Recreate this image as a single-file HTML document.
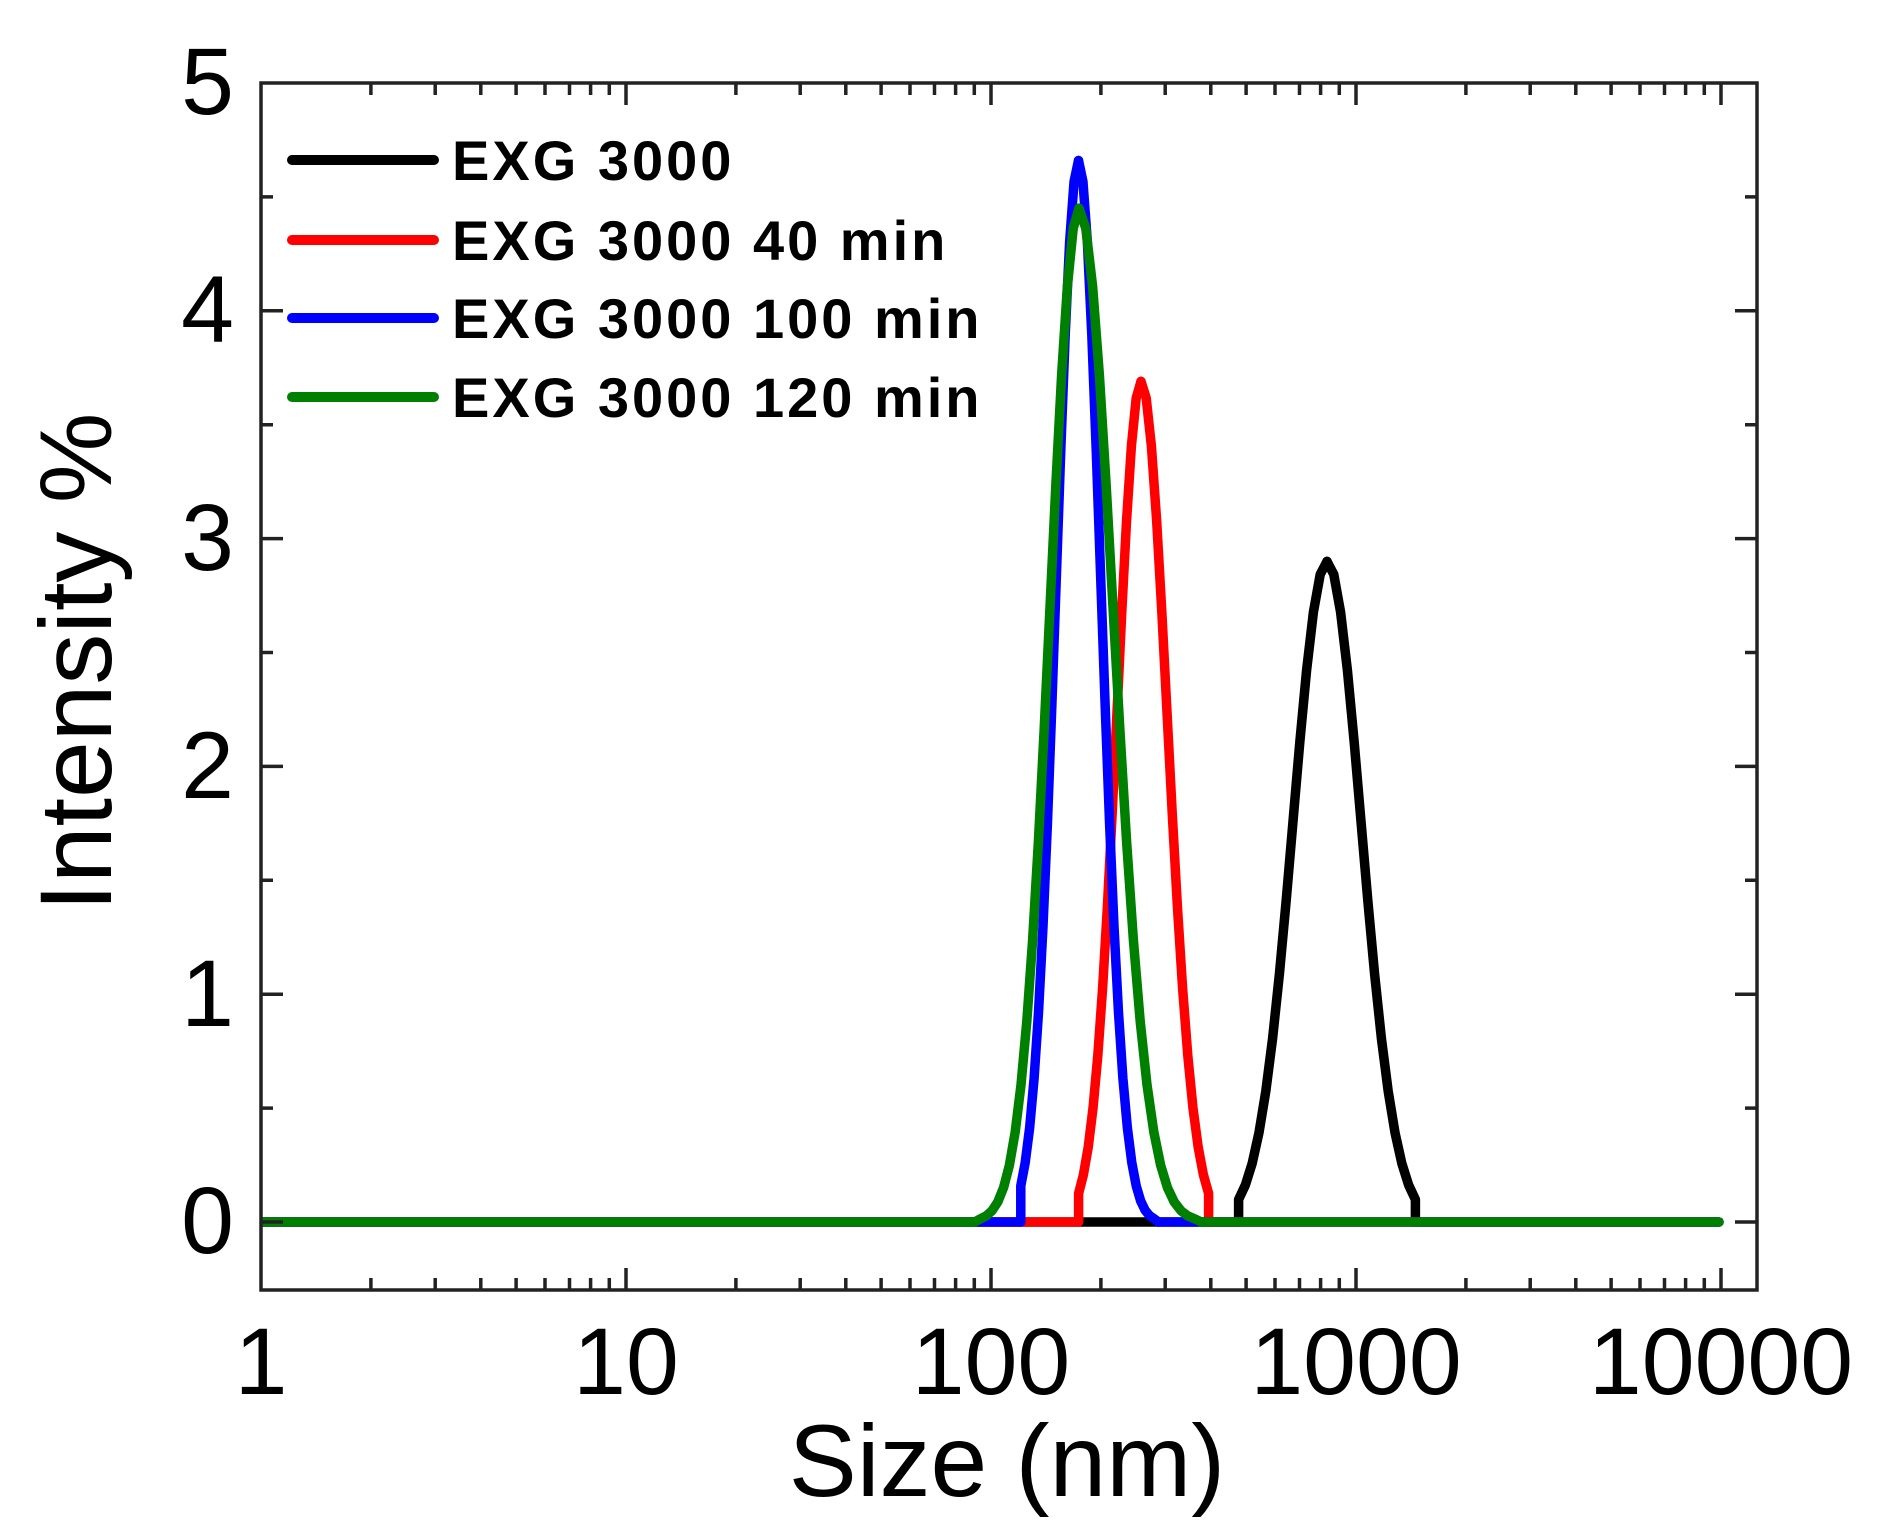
<!DOCTYPE html>
<html>
<head>
<meta charset="utf-8">
<style>
html,body{margin:0;padding:0;background:#fff;}
svg{display:block;}
text{font-family:"Liberation Sans",Arial,sans-serif;fill:#000;}
.tl{font-size:95px;}
.ttl{font-size:102px;}
.lg{font-size:56px;font-weight:bold;letter-spacing:3px;}
.ax{stroke:#222;stroke-width:3.5;fill:none;}
.s{fill:none;stroke-width:9.5;stroke-linejoin:round;stroke-linecap:round;vector-effect:non-scaling-stroke;}
.b{fill:none;stroke-width:9.5;stroke-linecap:butt;}
.br{fill:none;stroke-width:9.5;stroke-linecap:round;}
.lgl{fill:none;stroke-width:10;stroke-linecap:round;}
</style>
</head>
<body>
<svg width="1879" height="1534" viewBox="0 0 1879 1534" xmlns="http://www.w3.org/2000/svg">
<rect x="0" y="0" width="1879" height="1534" fill="#fff"/>

<!-- Series (order: black, red, blue, green) -->
<g>
  <!-- black -->
  <line class="b" x1="261" y1="1222" x2="1240" y2="1222" stroke="#000"/>
  <line class="br" x1="1414" y1="1222" x2="1719" y2="1222" stroke="#000"/>
  <path class="s" stroke="#000" transform="translate(1327,1222) scale(-34,660.6)" d="M0,-1 L0.2,-0.9802 L0.4,-0.9231 L0.6,-0.8353 L0.8,-0.7261 L1,-0.6065 L1.2,-0.4868 L1.4,-0.3753 L1.6,-0.278 L1.8,-0.1979 L2,-0.1353 L2.2,-0.0889 L2.4,-0.0561 L2.6,-0.034 L2.6,0"/>
  <path class="s" stroke="#000" transform="translate(1327,1222) scale(34,660.6)" d="M0,-1 L0.2,-0.9802 L0.4,-0.9231 L0.6,-0.8353 L0.8,-0.7261 L1,-0.6065 L1.2,-0.4868 L1.4,-0.3753 L1.6,-0.278 L1.8,-0.1979 L2,-0.1353 L2.2,-0.0889 L2.4,-0.0561 L2.6,-0.034 L2.6,0"/>

  <!-- red -->
  <line class="b" x1="261" y1="1222" x2="1079" y2="1222" stroke="#ff0000"/>
  <line class="br" x1="1208" y1="1222" x2="1719" y2="1222" stroke="#ff0000"/>
  <path class="s" stroke="#ff0000" transform="translate(1141,1222) scale(-24,840.6)" d="M0,-1 L0.2,-0.9802 L0.4,-0.9231 L0.6,-0.8353 L0.8,-0.7261 L1,-0.6065 L1.2,-0.4868 L1.4,-0.3753 L1.6,-0.278 L1.8,-0.1979 L2,-0.1353 L2.2,-0.0889 L2.4,-0.0561 L2.6,-0.034 L2.6,0"/>
  <path class="s" stroke="#ff0000" transform="translate(1141,1222) scale(26,840.6)" d="M0,-1 L0.2,-0.9802 L0.4,-0.9231 L0.6,-0.8353 L0.8,-0.7261 L1,-0.6065 L1.2,-0.4868 L1.4,-0.3753 L1.6,-0.278 L1.8,-0.1979 L2,-0.1353 L2.2,-0.0889 L2.4,-0.0561 L2.6,-0.034 L2.6,0"/>

  <!-- blue -->
  <line class="b" x1="261" y1="1222" x2="1021" y2="1222" stroke="#0000ff"/>
  <line class="br" x1="1158" y1="1222" x2="1719" y2="1222" stroke="#0000ff"/>
  <path class="s" stroke="#0000ff" transform="translate(1078.5,1222) scale(-22.2,1061.5)" d="M0,-1 L0.2,-0.9802 L0.4,-0.9231 L0.6,-0.8353 L0.8,-0.7261 L1,-0.6065 L1.2,-0.4868 L1.4,-0.3753 L1.6,-0.278 L1.8,-0.1979 L2,-0.1353 L2.2,-0.0889 L2.4,-0.0561 L2.6,-0.034 L2.6,0"/>
  <path class="s" stroke="#0000ff" transform="translate(1078.5,1222) scale(22.2,1061.5)" d="M0,-1 L0.2,-0.9802 L0.4,-0.9231 L0.6,-0.8353 L0.8,-0.7261 L1,-0.6065 L1.2,-0.4868 L1.4,-0.3753 L1.6,-0.278 L1.8,-0.1979 L2,-0.1353 L2.2,-0.0889 L2.4,-0.0561 L2.6,-0.034 L2.8,-0.0198 L3,-0.0111 L3.2,-0.006 L3.4,-0.0031 L3.6,0"/>

  <!-- green -->
  <line class="b" x1="261" y1="1222" x2="975" y2="1222" stroke="#008000"/>
  <line class="br" x1="1201" y1="1222" x2="1719" y2="1222" stroke="#008000"/>
  <path class="s" stroke="#008000" transform="translate(1079,1222) scale(-29,1013.7)" d="M0,-1 L0.2,-0.9802 L0.4,-0.9231 L0.6,-0.8353 L0.8,-0.7261 L1,-0.6065 L1.2,-0.4868 L1.4,-0.3753 L1.6,-0.278 L1.8,-0.1979 L2,-0.1353 L2.2,-0.0889 L2.4,-0.0561 L2.6,-0.034 L2.8,-0.0198 L3,-0.0111 L3.2,-0.006 L3.4,-0.0031 L3.6,0"/>
  <path class="s" stroke="#008000" transform="translate(1079,1222) scale(34,1013.7)" d="M0,-1 L0.2,-0.9802 L0.4,-0.9231 L0.6,-0.8353 L0.8,-0.7261 L1,-0.6065 L1.2,-0.4868 L1.4,-0.3753 L1.6,-0.278 L1.8,-0.1979 L2,-0.1353 L2.2,-0.0889 L2.4,-0.0561 L2.6,-0.034 L2.8,-0.0198 L3,-0.0111 L3.2,-0.006 L3.4,-0.0031 L3.6,0"/>
</g>

<!-- Frame -->
<rect class="ax" x="261" y="83" width="1496" height="1207"/>

<!-- X major ticks (bottom & top) -->
<path class="ax" d="M626,1290 v-22 M991,1290 v-22 M1356,1290 v-22 M1721,1290 v-22
M626,83 v22 M991,83 v22 M1356,83 v22 M1721,83 v22"/>
<!-- X minor ticks bottom -->
<path class="ax" d="
M370.9,1290 v-12 M435.2,1290 v-12 M480.8,1290 v-12 M516.1,1290 v-12 M545,1290 v-12 M569.5,1290 v-12 M590.6,1290 v-12 M609.3,1290 v-12
M735.9,1290 v-12 M800.2,1290 v-12 M845.8,1290 v-12 M881.1,1290 v-12 M910,1290 v-12 M934.5,1290 v-12 M955.6,1290 v-12 M974.3,1290 v-12
M1100.9,1290 v-12 M1165.2,1290 v-12 M1210.8,1290 v-12 M1246.1,1290 v-12 M1275,1290 v-12 M1299.5,1290 v-12 M1320.6,1290 v-12 M1339.3,1290 v-12
M1465.9,1290 v-12 M1530.2,1290 v-12 M1575.8,1290 v-12 M1611.1,1290 v-12 M1640,1290 v-12 M1664.5,1290 v-12 M1685.6,1290 v-12 M1704.3,1290 v-12"/>
<!-- X minor ticks top -->
<path class="ax" d="
M370.9,83 v12 M435.2,83 v12 M480.8,83 v12 M516.1,83 v12 M545,83 v12 M569.5,83 v12 M590.6,83 v12 M609.3,83 v12
M735.9,83 v12 M800.2,83 v12 M845.8,83 v12 M881.1,83 v12 M910,83 v12 M934.5,83 v12 M955.6,83 v12 M974.3,83 v12
M1100.9,83 v12 M1165.2,83 v12 M1210.8,83 v12 M1246.1,83 v12 M1275,83 v12 M1299.5,83 v12 M1320.6,83 v12 M1339.3,83 v12
M1465.9,83 v12 M1530.2,83 v12 M1575.8,83 v12 M1611.1,83 v12 M1640,83 v12 M1664.5,83 v12 M1685.6,83 v12 M1704.3,83 v12"/>

<!-- Y ticks left -->
<path class="ax" d="M261,1222 h22 M261,994.2 h22 M261,766.4 h22 M261,538.6 h22 M261,310.8 h22
M261,1108.1 h12 M261,880.3 h12 M261,652.5 h12 M261,424.7 h12 M261,196.9 h12"/>
<!-- Y ticks right -->
<path class="ax" d="M1757,1222 h-22 M1757,994.2 h-22 M1757,766.4 h-22 M1757,538.6 h-22 M1757,310.8 h-22
M1757,1108.1 h-12 M1757,880.3 h-12 M1757,652.5 h-12 M1757,424.7 h-12 M1757,196.9 h-12"/>

<!-- Y tick labels -->
<g class="tl" text-anchor="end">
  <text x="234" y="1253">0</text>
  <text x="234" y="1026">1</text>
  <text x="234" y="798">2</text>
  <text x="234" y="570">3</text>
  <text x="234" y="342">4</text>
  <text x="234" y="114">5</text>
</g>

<!-- X tick labels -->
<g class="tl" text-anchor="middle">
  <text x="261" y="1394">1</text>
  <text x="626" y="1394">10</text>
  <text x="991" y="1394">100</text>
  <text x="1356" y="1394">1000</text>
  <text x="1721" y="1394">10000</text>
</g>

<!-- Axis titles -->
<text class="ttl" x="1007" y="1496" text-anchor="middle">Size (nm)</text>
<text class="ttl" text-anchor="middle" transform="translate(111,662) rotate(-90)">Intensity %</text>

<!-- Legend -->
<line x1="292" y1="160" x2="434" y2="160" stroke="#000" class="lgl"/>
<line x1="292" y1="240" x2="434" y2="240" stroke="#ff0000" class="lgl"/>
<line x1="292" y1="318" x2="434" y2="318" stroke="#0000ff" class="lgl"/>
<line x1="292" y1="397" x2="434" y2="397" stroke="#008000" class="lgl"/>
<text class="lg" x="452" y="180">EXG 3000</text>
<text class="lg" x="452" y="260">EXG 3000 40 min</text>
<text class="lg" x="452" y="338">EXG 3000 100 min</text>
<text class="lg" x="452" y="417">EXG 3000 120 min</text>
</svg>
</body>
</html>
